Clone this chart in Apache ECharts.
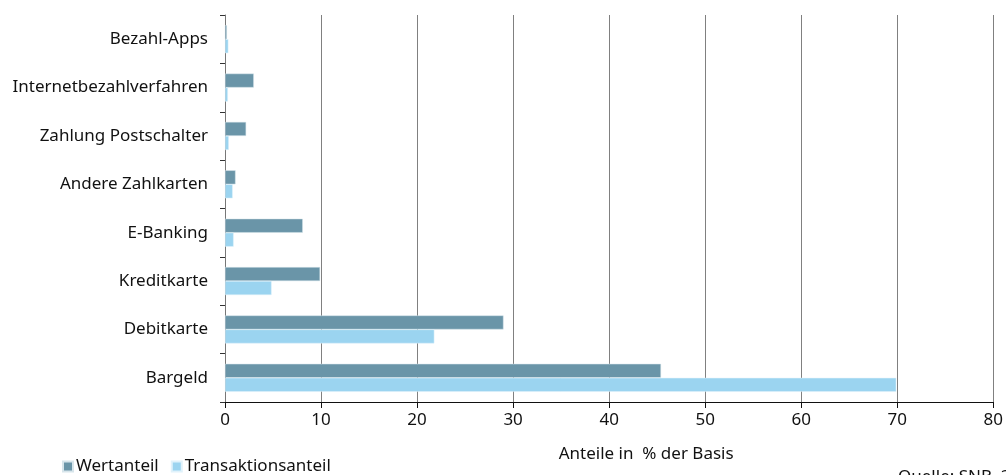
<!DOCTYPE html>
<html><head><meta charset="utf-8">
<script src="https://cdn.jsdelivr.net/npm/echarts@6/dist/echarts.min.js"></script>
<style>html,body{margin:0;padding:0;background:#fff}#c{width:1006px;height:475px}</style>
</head><body><div id="c"></div>
<script>
var categories = ['Bargeld','Debitkarte','Kreditkarte','E-Banking','Andere Zahlkarten','Zahlung Postschalter','Internetbezahlverfahren','Bezahl-Apps'];
var wertanteil = [45.4, 29.0, 9.9, 8.1, 1.1, 2.2, 3.0, 0.2];
var transaktionsanteil = [69.9, 21.8, 4.85, 0.9, 0.8, 0.4, 0.3, 0.35];
var xTicks = [0,10,20,30,40,50,60,70,80];
var FONT = 'Noto Sans';
var chart = echarts.init(document.getElementById('c'));
chart.setOption({
  animation:false,
  textStyle:{fontFamily:FONT},
  grid:{left:225,right:12,top:15,bottom:73,containLabel:false},
  legend:{left:57,top:453,itemWidth:10,itemHeight:10,itemGap:12,icon:'rect',
    textStyle:{fontFamily:FONT,fontSize:17,color:'#111',padding:[0,0,0,-2]},
    data:['Wertanteil','Transaktionsanteil']},
  xAxis:{type:'value',min:xTicks[0],max:xTicks[xTicks.length-1],interval:10,
    name:'Anteile in  % der Basis',nameLocation:'middle',nameGap:44,
    nameTextStyle:{fontFamily:FONT,fontSize:17,color:'#111',padding:[0,0,0,74]},
    axisLine:{show:true,lineStyle:{color:'#111',width:1}},
    axisTick:{show:true,length:6,lineStyle:{color:'#111'}},
    axisLabel:{fontFamily:FONT,fontSize:17,color:'#111',margin:10},
    splitLine:{show:true,lineStyle:{color:'#808080',width:1}}},
  yAxis:{type:'category',data:categories,
    axisLine:{show:true,lineStyle:{color:'#777',width:1}},
    axisTick:{show:true,length:5,lineStyle:{color:'#333'}},
    axisLabel:{fontFamily:FONT,fontSize:17,color:'#111',margin:17},
    splitLine:{show:false}},
  graphic:[{type:'text',left:898,top:469,style:{text:'Quelle: SNB, 2018',fontFamily:FONT,fontSize:17,fill:'#111'}}],
  series:[
    {name:'Wertanteil',type:'bar',data:wertanteil,barWidth:14,barGap:'0%',
      itemStyle:{color:'#6a95a8',borderColor:'#d7e5eb',borderWidth:0.5}},
    {name:'Transaktionsanteil',type:'bar',data:transaktionsanteil,barWidth:14,barGap:'0%',
      itemStyle:{color:'#9bd4f0',borderColor:'#e0f2fb',borderWidth:0.5}}
  ]
});
</script></body></html>
